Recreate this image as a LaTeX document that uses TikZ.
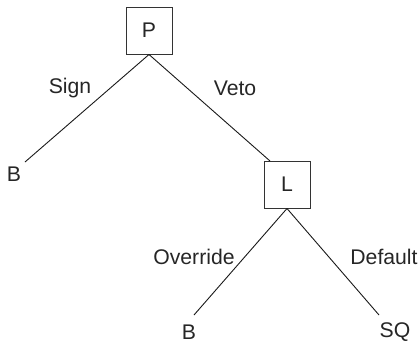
\documentclass[tikz,border=0pt]{standalone}
\usepackage{fontspec}
\setmainfont{Liberation Sans}
\begin{document}
\begin{tikzpicture}[x=1pt,y=-1pt,
  every node/.style={font=\fontsize{21.2}{24}\selectfont, text=black!85},
  player/.style={draw=black!80, line width=1pt, minimum width=46pt, minimum height=47pt, inner sep=0pt},
  leaf/.style={inner sep=0pt},
  lbl/.style={inner sep=0pt},
  branch/.style={draw=black!90, line width=0.9pt}]
\useasboundingbox (0,0) rectangle (418,343);
% decision nodes
\node[player] (P) at (149,30.5) {P};
\node[player] (L) at (287,184.5) {L};
% terminal outcomes
\node[leaf] (B1) at (14,174) {B};
\node[leaf] (B2) at (189,332) {B};
\node[leaf] (SQ) at (395,332) {SQ};
% branch end points
\coordinate (sEnd) at (25,162);
\coordinate (vEnd) at (270,161);
\coordinate (oEnd) at (194,315);
\coordinate (dEnd) at (379,315);
% branches
\draw[branch] (P.south) -- (sEnd);
\draw[branch] (P.south) -- (vEnd);
\draw[branch] (L.south) -- (oEnd);
\draw[branch] (L.south) -- (dEnd);
% action labels
\node[lbl] (sign) at (70,88) {Sign};
\node[lbl] (veto) at (235,88) {Veto};
\node[lbl] (over) at (194,257) {Override};
\node[lbl] (def) at (384,257) {Default};
\end{tikzpicture}
\end{document}
